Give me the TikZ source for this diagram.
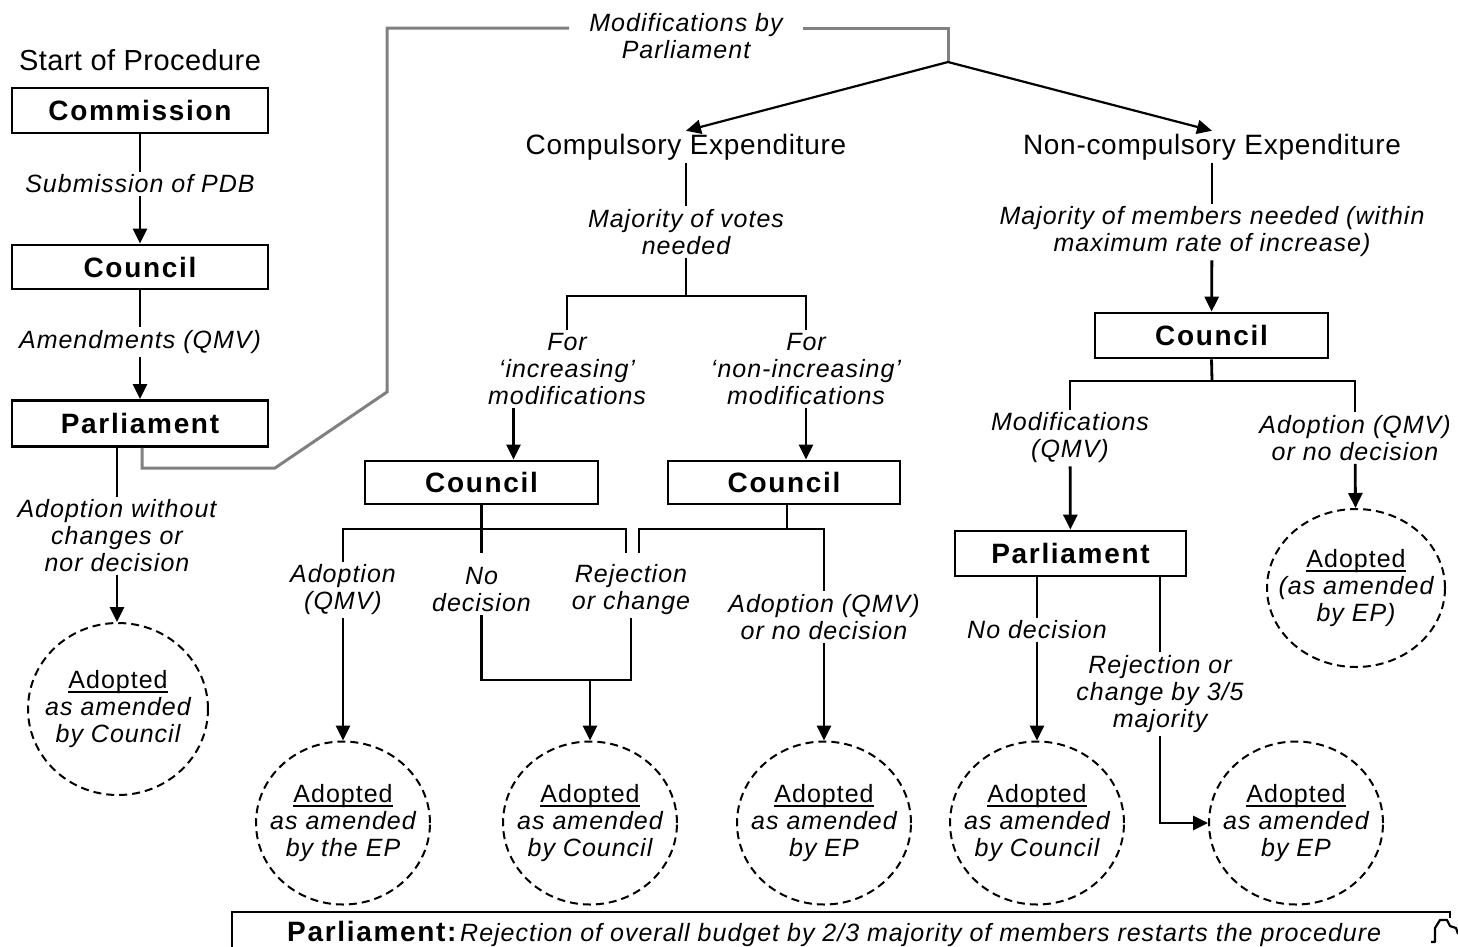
\documentclass[tikz,border=0pt]{standalone}
\usepackage{fontspec}
\setmainfont{Liberation Sans}
\newfontfamily\labfont[LetterSpace=4]{Liberation Sans}
\newfontfamily\boxfont[LetterSpace=6]{Liberation Sans}
\newfontfamily\headfont[LetterSpace=2.5]{Liberation Sans}
\newfontfamily\startfont[LetterSpace=1.5]{Liberation Sans}
\usetikzlibrary{arrows.meta,shapes.geometric,calc}
\definecolor{pgrey}{gray}{0.5}
\newcommand\myul[1]{\setbox0=\hbox{#1}\rlap{\rule[-5pt]{\wd0}{2.4pt}}\box0}
\tikzset{
  conn/.style={line width=2.8pt, black},
  arrw/.style={conn, -{Triangle[width=14pt,length=15pt]}},
  thinarrw/.style={line width=2.2pt, black, -{Triangle[width=14pt,length=15pt]}},
  boxn/.style={draw, line width=2.8pt, inner sep=0pt, font=\boxfont\bfseries\fontsize{28}{30}\selectfont},
  labn/.style={align=center, inner sep=3pt, font=\labfont\itshape\fontsize{25}{27}\selectfont},
  headn/.style={inner sep=3pt, font=\headfont\fontsize{28}{30}\selectfont},
  resn/.style={draw, ellipse, dash pattern=on 8pt off 5pt, line width=2pt, inner sep=0pt,
    minimum width=174pt, minimum height=163pt,
    label={[labn]center:{{\upshape\myul{Adopted}}\\#1}}},
  greyln/.style={line width=3pt, pgrey},
}
\begin{document}
\begin{tikzpicture}[x=1pt,y=-1pt]
\useasboundingbox (0,0) rectangle (1458,946);
\fill[white] (0,0) rectangle (1458,946);

% ---------------- left column ----------------
\node[inner sep=2pt, font=\startfont\fontsize{29}{31}\selectfont] (start) at (140,60) {Start of Procedure};
\node[boxn, minimum width=256pt, minimum height=45pt] (comm) at (140,110.5) {Commission};
\node[labn] (l1) at (140,184) {Submission of PDB};
\node[boxn, minimum width=256pt, minimum height=44pt] (cou1) at (140,267) {Council};
\node[labn] (l2) at (140,342) {Amendments (QMV)};
\node[boxn, minimum width=256pt, minimum height=46pt] (parl1) at (140,423.5) {Parliament};
\node[labn] (l3) at (117,536) {Adoption without\\changes or\\nor decision};
\node[resn={as amended\\by Council}, minimum width=180pt, minimum height=172pt] (a0) at (118,709) {};

\draw[conn] (comm) -- (l1);
\draw[arrw] (l1) -- (cou1);
\draw[conn] (cou1) -- (l2);
\draw[arrw] (l2) -- (parl1);
\draw[conn] (parl1.south -| l3.north) -- (l3.north);
\draw[arrw] (l3.south) -- (l3.south |- a0.north);

% ---------------- grey path: modifications by parliament ----------------
\node[labn, inner xsep=20pt] (mod) at (686,36) {Modifications by\\Parliament};
\coordinate (g1) at (142,468);
\coordinate (g2) at (275,468);
\coordinate (g3) at (387,392);
\coordinate (g4) at (387,28);
\coordinate (g5) at (948,28);
\coordinate (split) at (948,62);
\draw[greyln] (parl1.south -| g1) -- (g1) -- (g2) -- (g3) -- (g4) -- (g4 -| mod.west);
\draw[greyln] (mod.east |- g5) -- (g5) -- (split);

% ---------------- compulsory expenditure ----------------
\node[headn] (ce) at (686,147) {Compulsory Expenditure};
\node[headn] (nce) at (1212,147) {Non-compulsory Expenditure};
\draw[thinarrw] (split) -- (ce.north);
\draw[thinarrw] (split) -- (nce.north);

\node[labn] (l4) at (686,232) {Majority of votes\\needed};
\draw[conn] (ce) -- (l4);
\coordinate (b1) at (686,296);
\draw[conn] (l4) -- (b1);
\node[labn] (l5) at (567,369) {For\\‘increasing’\\modifications};
\node[labn] (l6) at (806,369) {For\\‘non-increasing’\\modifications};
\draw[conn] (l5.north) -- (l5.north |- b1) -- (l6.north |- b1) -- (l6.north);

\node[boxn, minimum width=233pt, minimum height=43pt] (cL) at (481.5,482.5) {Council};
\node[boxn, minimum width=232pt, minimum height=43pt] (cR) at (784,482.5) {Council};
\coordinate (cLin) at ($(cL.north)+(32,0)$);
\draw[arrw] (cLin |- l5.south) -- (cLin);
\draw[arrw] (l6.south) -- (l6.south |- cR.north);

% left council outcomes
\node[labn] (l7) at (343,590) {Adoption\\(QMV)};
\node[labn] (l8) at (481.5,590) {No\\decision};
\node[labn] (l9) at (631,590) {Rejection\\or change};
\coordinate (b2) at (481.5,529);
\coordinate (b2R) at (626,529);
\coordinate (n553) at (481.5,553);
\draw[conn] (cL.south) -- (n553);
\draw[conn] (l7.north) -- (l7.north |- b2) -- (b2R) -- (b2R |- n553);
\coordinate (j) at (590,680);
\draw[conn] (l8.south) |- (l9.south |- j) -- (l9.south);

\node[resn={as amended\\by the EP}] (a1) at (343,823) {};
\node[resn={as amended\\by Council}] (a2) at (590,823) {};
\node[resn={as amended\\by EP}] (a3) at (824,823) {};
\draw[arrw] (l7) -- (a1);
\draw[arrw] (j) -- (a2);

% right council outcomes
\coordinate (b3) at (787,529);
\coordinate (b3L) at (639,553);
\node[labn] (l10) at (824,617) {Adoption (QMV)\\or no decision};
\draw[conn] (cR.south -| b3) -- (b3);
\draw[conn] (b3L) -- (b3L |- b3) -- (b3 -| l10.north) -- (l10.north);
\draw[arrw] (l10) -- (a3);

% ---------------- non-compulsory expenditure ----------------
\node[labn] (l11) at (1212,232) {Majority of members needed (within\\maximum rate of increase)};
\draw[conn] (nce) -- (l11);
\node[boxn, minimum width=233pt, minimum height=45pt] (cN) at (1211.5,335.5) {Council};
\draw[arrw] (l11) -- (cN);
\coordinate (b4) at (1212,381);
\node[labn] (l12) at (1070,438) {Modifications\\(QMV)};
\node[labn] (l13) at (1355,438) {Adoption (QMV)\\or no decision};
\draw[conn] (cN.south) -- (b4);
\draw[conn] (l12.north) -- (l12.north |- b4) -- (l13.north |- b4) -- (l13.north);
\node[boxn, minimum width=231pt, minimum height=45pt] (parl2) at (1070.5,553.5) {Parliament};
\draw[arrw] (l12) -- (parl2);
\node[resn={(as amended\\by EP)}, minimum width=178pt, minimum height=158pt] (a6) at (1356,588) {};
\draw[arrw] (l13) -- (a6);

\node[labn] (l14) at (1037,630) {No decision};
\node[labn] (l15) at (1160,694) {Rejection or\\change by 3/5\\majority};
\node[resn={as amended\\by Council}] (a4) at (1037,823) {};
\node[resn={as amended\\by EP}] (a5) at (1296,823) {};
\draw[conn] (parl2.south -| l14) -- (l14);
\draw[arrw] (l14) -- (a4);
\draw[conn] (parl2.south -| l15) -- (l15);
\draw[arrw] (l15.south) |- (a5.west);

% ---------------- bottom frame ----------------
\node[anchor=base west, inner sep=0pt] (restart) at (287,941)
  {{\boxfont\bfseries\fontsize{28}{30}\selectfont Parliament:} {\labfont\itshape\fontsize{25}{27}\selectfont Rejection of overall budget by 2/3 majority of members restarts the procedure}};
\coordinate (f1) at (232,950);
\coordinate (f2) at (232,912);
\coordinate (f3) at (1450,912);
\draw[conn] (f1) -- (f2) -- (f3) -- ++(0,6);
\draw[line width=2.2pt, line join=round] (1431,942) -- (1435,942) -- (1435,928) -- (1440,920) -- (1447,920) -- (1450,926) -- (1456,928) -- (1458,934);
\end{tikzpicture}
\end{document}
